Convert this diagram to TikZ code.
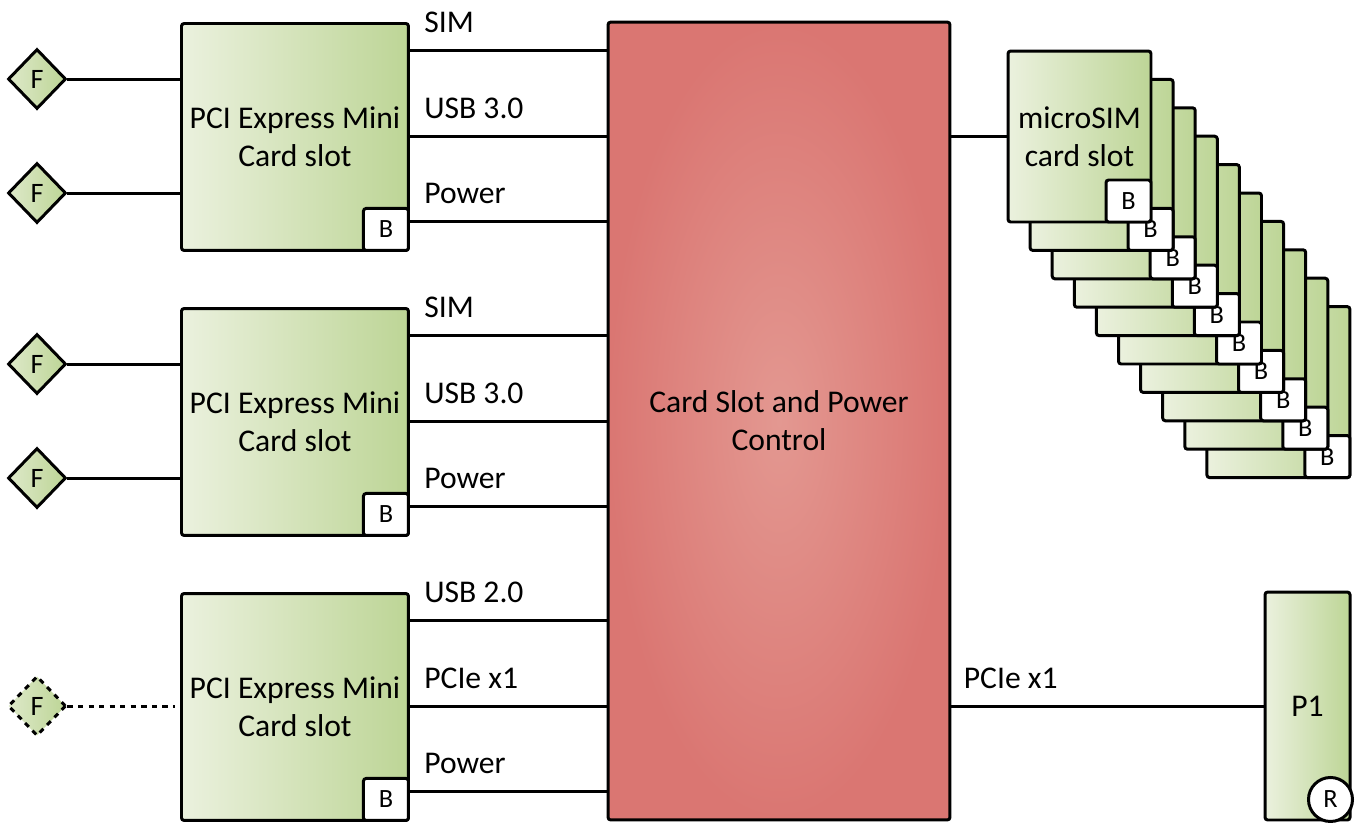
\documentclass[tikz,border=0pt]{standalone}
\usepackage{fontspec}
\setmainfont{Carlito}
\usetikzlibrary{positioning, calc, shapes.geometric}
\definecolor{slotlight}{HTML}{EBF1DE}
\definecolor{slotgreen}{HTML}{BDD596}
\definecolor{ctrlred}{HTML}{DA7672}
\definecolor{ctrlpink}{HTML}{E39891}
\tikzset{
	slotnode/.style={
			draw=black,
			line width=1.7pt,
			rounded corners=1.5pt,
			left color=slotlight,
			right color=slotgreen,
			minimum width=4.54cm,
			minimum height=4.54cm,
			inner sep=0pt,
			align=center,
			font=\fontsize{18}{21.6}\selectfont
		},
	simnode/.style={
			slotnode,
			minimum width=2.86cm,
			minimum height=3.42cm
		},
	ctrlnode/.style={
			draw=black,
			line width=1.7pt,
			rounded corners=1.5pt,
			inner color=ctrlpink,
			outer color=ctrlred,
			minimum width=6.84cm,
			minimum height=15.96cm,
			inner sep=0pt,
			align=center,
			font=\fontsize{18}{21.6}\selectfont
		},
	batnode/.style={
			draw=black,
			line width=1.7pt,
			rounded corners=1.5pt,
			fill=white,
			minimum width=0.9cm,
			minimum height=0.84cm,
			inner sep=0pt,
			anchor=south east,
			font=\fontsize{15}{15}\selectfont
		},
	antnode/.style={
			diamond,
			draw=black,
			line width=1.7pt,
			left color=slotlight!70!slotgreen,
			right color=slotgreen,
			minimum width=1.16cm,
			minimum height=1.2cm,
			inner sep=0pt,
			font=\fontsize{16}{16}\selectfont
		},
	resnode/.style={
			circle,
			draw=black,
			line width=1.7pt,
			fill=white,
			minimum size=0.88cm,
			inner sep=0pt,
			font=\fontsize{15}{15}\selectfont
		},
	wire/.style={
			line width=1.7pt
		},
	wirelabel/.style={
			anchor=base west,
			inner sep=0pt,
			font=\fontsize{18}{18}\selectfont
		}
}

\begin{document}
\begin{tikzpicture}[x=0.02cm, y=-0.02cm]
\useasboundingbox (0,0) rectangle (1358,823);

% control block in the middle
\node[ctrlnode] (ctrl) at (779,421) {Card Slot and Power\\Control};

% mini card slots and their wires to the control block
\foreach \s/\y/\la/\lb/\lc in {A/22/SIM/USB 3.0/Power, B/307/SIM/USB 3.0/Power, C/592/USB 2.0/PCIe x1/Power}{
	\node[slotnode, anchor=north west] (slot\s) at (180,\y) {PCI Express Mini\\Card slot};
	\node[batnode] (bat\s) at (slot\s.south east) {B};
	\foreach \n/\d/\lbl in {1/28/\la, 2/114/\lb, 3/199/\lc}{
		\coordinate (wire\s\n) at ($(slot\s.north east)+(0,\d)$);
		\draw[wire] (wire\s\n) -- (ctrl.west |- wire\s\n);
		\node[wirelabel] (lab\s\n) at ($(wire\s\n)+(14,-18)$) {\lbl};
	}
}

% antenna ports
\node[antnode] (antA1) at (37,79) {F};
\node[antnode] (antA2) at (37,193) {F};
\node[antnode] (antB1) at (37,364) {F};
\node[antnode] (antB2) at (37,478) {F};
\node[antnode, dashed] (antC1) at (37,706) {F};

\draw[wire] (antA1) -- (slotA.west |- antA1);
\draw[wire] (antA2) -- (slotA.west |- antA2);
\draw[wire] (antB1) -- (slotB.west |- antB1);
\draw[wire] (antB2) -- (slotB.west |- antB2);
\draw[wire, dashed] (antC1) -- ([xshift=-0.1cm]slotC.west |- antC1);

% stack of microSIM slots, back to front
\foreach \i in {9,8,...,1}{
	\node[simnode] (sim\i) at (1079.5+22.1*\i, 136.5+28.4*\i) {};
	\node[batnode] (simbat\i) at (sim\i.south east) {B};
}
\node[simnode] (sim0) at (1079.5,136.5) {microSIM\\card slot};
\node[batnode] (simbat0) at (sim0.south east) {B};
\draw[wire] (ctrl.east |- sim0) -- (sim0.west);

% PCIe port
\node[slotnode, minimum width=1.7cm, minimum height=4.56cm] (p1) at (1307.5,706) {P1};
\node[resnode] (resP1) at ($(p1.south east)+(-21,-22)$) {R};
\draw[wire] (ctrl.east |- p1) -- (p1.west);
\node[wirelabel] (labP1) at ($(ctrl.east |- p1)+(12,-18)$) {PCIe x1};

\end{tikzpicture}
\end{document}
